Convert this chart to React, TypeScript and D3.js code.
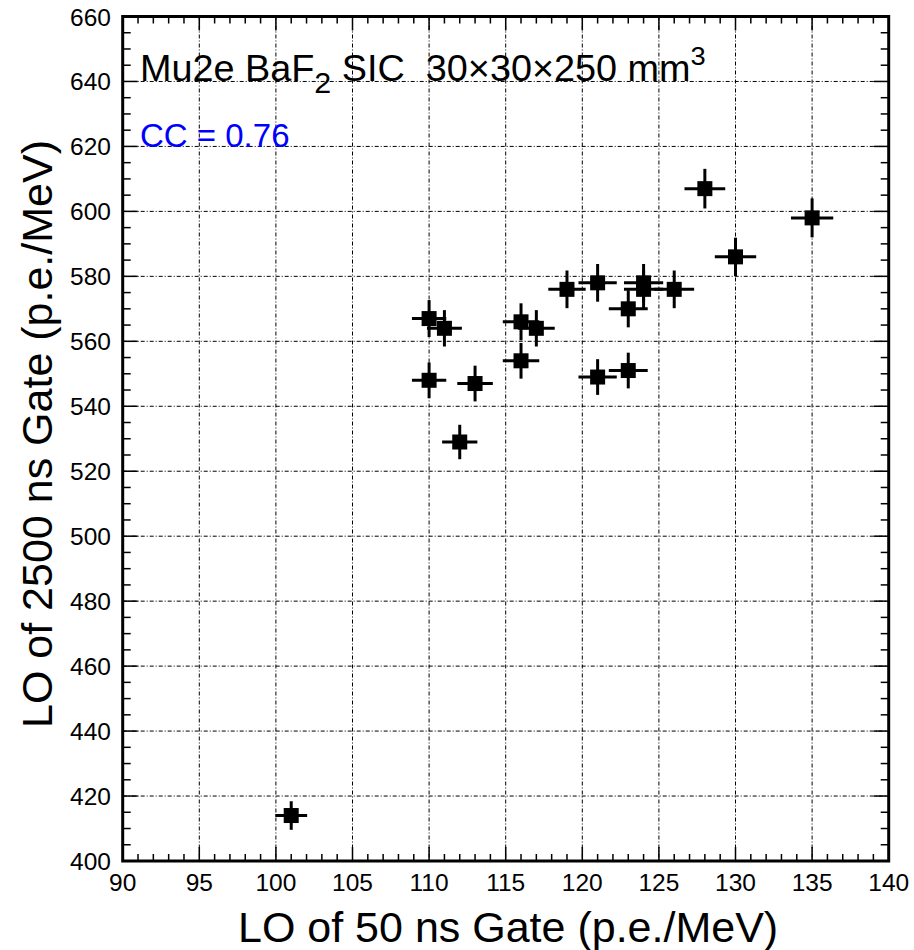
import React from "react";
import * as d3 from "d3";

const xValues = [128, 135, 130, 119, 121, 124, 124, 126, 123, 110, 111, 116, 117, 116, 110, 113, 121, 123, 112, 101];
const yValues = [607, 598, 586, 576, 578, 578, 576, 576, 570, 567, 564, 566, 564, 554, 548, 547, 549, 551, 529, 414];
const xErrors = [1.33, 1.38, 1.35, 1.22, 1.25, 1.28, 1.28, 1.3, 1.27, 1.12, 1.14, 1.19, 1.2, 1.19, 1.12, 1.16, 1.25, 1.27, 1.15, 1.04];
const yErrors = [6.1, 6.0, 5.9, 5.8, 5.8, 5.8, 5.8, 5.8, 5.7, 5.7, 5.6, 5.7, 5.6, 5.5, 5.5, 5.5, 5.5, 5.5, 5.3, 4.4];

const xDomain = [90, 140];
const yDomain = [400, 660];
const xTitle = "LO of 50 ns Gate (p.e./MeV)";
const yTitle = "LO of 2500 ns Gate (p.e./MeV)";
const ccText = "CC = 0.76";

const FONT = "'Liberation Sans', Arial, Helvetica, sans-serif";

export default function App() {
  const W = 914, H = 950;
  const left = 122.7, right = 888.7, top = 16.5, bottom = 861;
  const x = d3.scaleLinear().domain(xDomain).range([left, right]);
  const y = d3.scaleLinear().domain(yDomain).range([bottom, top]);

  const xMajor = d3.range(xDomain[0], xDomain[1] + 0.001, 5);
  const xMinor = d3.range(xDomain[0], xDomain[1] + 0.001, 1);
  const yMajor = d3.range(yDomain[0], yDomain[1] + 0.001, 20);
  const yMinor = d3.range(yDomain[0], yDomain[1] + 0.001, 5);

  const grid = "4 2 1 2";
  const xMajLen = 14, xMinLen = 7, yMajLen = 15, yMinLen = 8;
  const ms = 15;

  return (
    <svg width={W} height={H} style={{ position: "absolute", left: 0, top: 0, background: "#fff" }} fontFamily={FONT}>
      <rect x={0} y={0} width={W} height={H} fill="#fff" />
      {/* grid */}
      <g stroke="#000" strokeWidth={1} strokeDasharray={grid}>
        {xMajor.filter(v => v > xDomain[0] && v < xDomain[1]).map(v => (
          <line key={"gx" + v} x1={x(v)} x2={x(v)} y1={top} y2={bottom} />
        ))}
        {yMajor.filter(v => v > yDomain[0] && v < yDomain[1]).map(v => (
          <line key={"gy" + v} x1={left} x2={right} y1={y(v)} y2={y(v)} />
        ))}
      </g>
      {/* ticks */}
      <g stroke="#000" strokeWidth={1.5}>
        {xMinor.map(v => {
          const len = v % 5 === 0 ? xMajLen : xMinLen;
          return (
            <g key={"tx" + v}>
              <line x1={x(v)} x2={x(v)} y1={bottom} y2={bottom - len} />
              <line x1={x(v)} x2={x(v)} y1={top} y2={top + len} />
            </g>
          );
        })}
        {yMinor.map(v => {
          const len = v % 20 === 0 ? yMajLen : yMinLen;
          return (
            <g key={"ty" + v}>
              <line x1={left} x2={left + len} y1={y(v)} y2={y(v)} />
              <line x1={right} x2={right - len} y1={y(v)} y2={y(v)} />
            </g>
          );
        })}
      </g>
      {/* frame */}
      <rect x={left} y={top} width={right - left} height={bottom - top} fill="none" stroke="#000" strokeWidth={3} />
      {/* tick labels */}
      <g fontSize={24.5} fill="#000">
        {xMajor.map(v => (
          <text key={"lx" + v} x={x(v)} y={891} textAnchor="middle">{v}</text>
        ))}
        {yMajor.map(v => (
          <text key={"ly" + v} x={111} y={y(v) + 9} textAnchor="end">{v}</text>
        ))}
      </g>
      {/* axis titles */}
      <text x={238} y={942} fontSize={43} fill="#000">{xTitle}</text>
      <text transform="translate(52,728) rotate(-90)" fontSize={43} fill="#000">{yTitle}</text>
      {/* annotations */}
      <text transform="translate(140,81) scale(1.05,1)" fontSize={36} fill="#000" xmlSpace="preserve" style={{ whiteSpace: "pre" }}>
        <tspan>Mu2e BaF</tspan>
        <tspan fontSize={29} dy={12}>2</tspan>
        <tspan dy={-12}>{" SIC  30×30×250 mm"}</tspan>
        <tspan fontSize={26} dy={-16}>3</tspan>
      </text>
      <text x={140} y={146.5} fontSize={33} fill="#0000ff">{ccText}</text>
      {/* data */}
      <g>
        {xValues.map((xv, i) => {
          const yv = yValues[i];
          const cx = x(xv), cy = y(yv);
          return (
            <g key={"p" + i}>
              <line x1={x(xv - xErrors[i])} x2={x(xv + xErrors[i])} y1={cy} y2={cy} stroke="#000" strokeWidth={3} />
              <line x1={cx} x2={cx} y1={y(yv - yErrors[i])} y2={y(yv + yErrors[i])} stroke="#000" strokeWidth={3} />
              <rect x={cx - ms / 2} y={cy - ms / 2} width={ms} height={ms} fill="#000" />
            </g>
          );
        })}
      </g>
    </svg>
  );
}
